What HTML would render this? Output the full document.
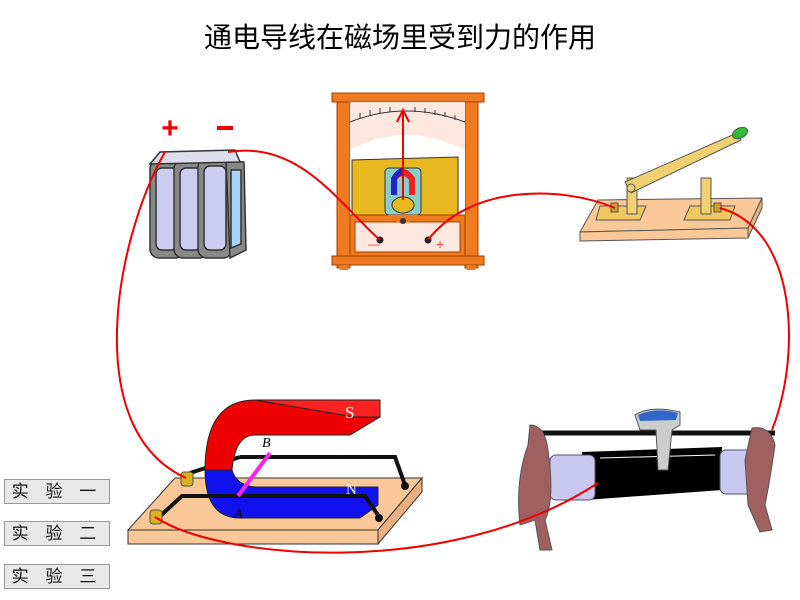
<!DOCTYPE html>
<html><head><meta charset="utf-8"><style>
body{margin:0;background:#fff;width:800px;height:600px;overflow:hidden;font-family:"Liberation Sans","Noto Sans CJK SC",sans-serif}
.btn{position:absolute;left:4px;width:104px;height:23px;background:#e8e8e8;border:1px solid #999;font-size:17px;text-align:center;line-height:23px;letter-spacing:6px;color:#111}
</style></head><body>
<div style="position:absolute;top:16px;left:0;width:800px;text-align:center;font-size:28px;color:#000">通电导线在磁场里受到力的作用</div>
<svg width="800" height="600" style="position:absolute;left:0;top:0">
<!-- battery -->
<g stroke="#333" stroke-width="1.5">
<rect x="150" y="160" width="34" height="98" rx="9" fill="#888"/>
<rect x="156" y="168" width="22" height="82" rx="6" fill="#ccccf0"/>
<rect x="174" y="160" width="34" height="98" rx="9" fill="#888"/>
<rect x="180" y="168" width="22" height="82" rx="6" fill="#ccccf0"/>
<rect x="198" y="158" width="34" height="100" rx="9" fill="#888"/>
<rect x="204" y="166" width="22" height="84" rx="6" fill="#ccccf0"/>
<path d="M226 160 L244 162 L246 250 L230 258 Z" fill="#888"/>
<path d="M231 170 L241 170 L241 244 L231 248 Z" fill="#a8d4ff"/>
<path d="M160 152 L235 150 L240 162 L150 164 Z" fill="#dde" />
</g>
<text x="170" y="138" font-size="30" fill="#e00" text-anchor="middle" font-weight="bold">+</text>
<rect x="217" y="126" width="16" height="4" fill="#e00"/>
<!-- ammeter -->
<rect x="337" y="98" width="13" height="170" fill="#f07a20" stroke="#a04000"/>
<rect x="465" y="98" width="13" height="170" fill="#f07a20" stroke="#a04000"/>
<rect x="332" y="93" width="152" height="9" fill="#f07a20" stroke="#a04000"/>
<rect x="350" y="102" width="115" height="113" fill="#fde8e0"/>
<path d="M350 150 Q405 120 465 150 L465 215 L350 215Z" fill="#fff"/>
<path d="M352 160 L352 215 L458 215 L458 157 Z" fill="#e8b820" stroke="#333"/>
<rect x="385" y="168" width="36" height="47" rx="4" fill="#8cc" stroke="#333"/>
<path d="M391 195 L391 178 Q403 160 415 178 L415 195 L409 195 L409 180 Q403 172 397 180 L397 195Z" fill="#e22"/>
<path d="M391 195 L391 178 Q397 168 403 168 L403 175 Q397 176 397 180 L397 195Z" fill="#22c"/>
<ellipse cx="403" cy="205" rx="11" ry="8" fill="#e8b820" stroke="#333"/>
<path d="M350 122 Q405 100 465 122" fill="none" stroke="#333"/>
<g stroke="#333"><line x1="360" y1="118" x2="360" y2="113"/><line x1="370" y1="115" x2="370" y2="110"/><line x1="380" y1="113" x2="380" y2="108"/><line x1="390" y1="112" x2="390" y2="107"/><line x1="415" y1="112" x2="415" y2="107"/><line x1="425" y1="113" x2="425" y2="108"/><line x1="435" y1="115" x2="435" y2="110"/><line x1="445" y1="117" x2="445" y2="112"/><line x1="455" y1="120" x2="455" y2="115"/></g>
<line x1="403" y1="200" x2="403" y2="112" stroke="#e00" stroke-width="2"/>
<path d="M397 122 L403 110 L409 122" fill="none" stroke="#e00" stroke-width="2"/>
<rect x="350" y="215" width="115" height="42" fill="#f07a20" stroke="#a04000"/>
<rect x="355" y="222" width="105" height="30" fill="#fde8e0" stroke="#a04000"/>
<path d="M388 215 Q403 232 418 215" fill="#f07a20"/>
<circle cx="403" cy="221" r="3" fill="#333"/>
<circle cx="380" cy="240" r="3.5" fill="#222"/><circle cx="428" cy="240" r="3.5" fill="#222"/>
<text x="368" y="248" font-size="12" fill="#e44">—</text><text x="436" y="249" font-size="14" fill="#e44">+</text>
<rect x="332" y="256" width="152" height="9" fill="#f07a20" stroke="#a04000"/>
<rect x="340" y="265" width="8" height="5" fill="#f07a20"/><rect x="467" y="265" width="8" height="5" fill="#f07a20"/>
<!-- switch -->
<g stroke="#555" stroke-width="1">
<polygon points="598,200 762,198 748,228 580,232" fill="#fac898"/>
<polygon points="580,232 748,228 748,238 580,241" fill="#fac898"/>
<polygon points="748,228 762,198 762,208 748,238" fill="#e8b080"/>
<polygon points="600,206 646,206 640,220 596,220" fill="#f0c860"/>
<polygon points="690,206 735,206 730,220 684,220" fill="#f0c860"/>
<rect x="627" y="178" width="10" height="36" fill="#f0d070"/>
<rect x="701" y="178" width="10" height="36" fill="#f0d070"/>
<polygon points="625,182 737,133 741,140 631,193" fill="#f0d070"/>
<ellipse cx="740" cy="133" rx="8" ry="5" fill="#3b3" transform="rotate(-25 740 133)"/>
<circle cx="631" cy="188" r="4" fill="#f0d070"/>
<rect x="611" y="203" width="7" height="9" fill="#d0a020"/>
<rect x="714" y="203" width="7" height="9" fill="#d0a020"/>
</g>
<!-- magnet board -->
<g stroke="#333" stroke-width="1">
<polygon points="175,478 422,478 378,530 128,530" fill="#fac898"/>
<polygon points="128,530 378,530 378,544 128,544" fill="#fac898"/>
<polygon points="378,530 422,478 422,492 378,544" fill="#e8b080"/>
</g>
<line x1="190" y1="473" x2="240" y2="457" stroke="#111" stroke-width="4"/>
<polyline points="240,457 395,457 405,485" fill="none" stroke="#111" stroke-width="4"/>
<circle cx="405" cy="486" r="4" fill="#111"/>
<g stroke="#222" stroke-width="1">
<path d="M205 470 Q205 400 255 400 L380 400 L380 417 L350 435 L255 435 Q235 435 232 470 Z" fill="#e00"/>
<polygon points="255,400 380,400 380,417 355,417" fill="#f22"/>
<path d="M205 470 L232 470 Q236 485 255 487 L378 487 L378 505 L360 518 L240 518 Q205 518 205 470Z" fill="#11e"/>
</g>
<text x="345" y="418" font-size="17" fill="#fff" font-family="Liberation Serif">S</text>
<text x="346" y="494" font-size="15" fill="#fff" font-family="Liberation Serif">N</text>
<text x="262" y="447" font-size="14" font-style="italic" font-family="Liberation Serif">B</text>
<text x="234" y="518" font-size="14" font-style="italic" font-family="Liberation Serif">A</text>
<polyline points="158,518 182,496 365,496 380,518" fill="none" stroke="#111" stroke-width="4"/>
<circle cx="379" cy="518" r="4" fill="#111"/>
<line x1="238" y1="496" x2="270" y2="453" stroke="#f2e" stroke-width="4"/>
<rect x="181" y="472" width="12" height="14" rx="3" fill="#d8b020" stroke="#554"/>
<rect x="150" y="510" width="12" height="14" rx="3" fill="#d8b020" stroke="#554"/>
<!-- rheostat -->
<line x1="540" y1="433" x2="775" y2="433" stroke="#111" stroke-width="5"/>
<polygon points="582,452 722,447 722,490 585,500" fill="#000"/>
<line x1="600" y1="458" x2="715" y2="455" stroke="#fff" stroke-width="1"/>
<rect x="550" y="455" width="45" height="45" rx="6" fill="#c8c8f0" stroke="#556"/>
<rect x="720" y="450" width="40" height="44" rx="6" fill="#c8c8f0" stroke="#556"/>
<path d="M530 425 Q545 425 548 450 Q555 500 545 520 L552 550 L540 550 L535 520 L520 525 Q515 480 528 445Z" fill="#a06060" stroke="#555"/>
<path d="M752 428 Q770 425 775 445 Q770 480 765 505 L772 530 L760 532 L748 505 L745 460Z" fill="#a06060" stroke="#555"/>
<path d="M635 415 Q650 405 680 412 L680 425 L672 430 L668 470 L658 470 L656 430 L640 430 Z" fill="#ccc" stroke="#555"/>
<path d="M638 415 Q655 407 678 413 L676 420 L640 421Z" fill="#36c"/>
<!-- wires -->
<g fill="none" stroke="#e00" stroke-width="2">
<path d="M165 152 C 115 240 80 430 186 478"/>
<path d="M228 152 C 300 140 340 205 380 240"/>
<path d="M428 240 C 470 185 560 185 615 208"/>
<path d="M720 208 C 800 230 800 360 772 430"/>
<path d="M598 483 C 450 580 220 560 155 517"/>
</g>
</svg>
<div class="btn" style="top:479px">实 验 一</div>
<div class="btn" style="top:521px">实 验 二</div>
<div class="btn" style="top:564px">实 验 三</div>
</body></html>
